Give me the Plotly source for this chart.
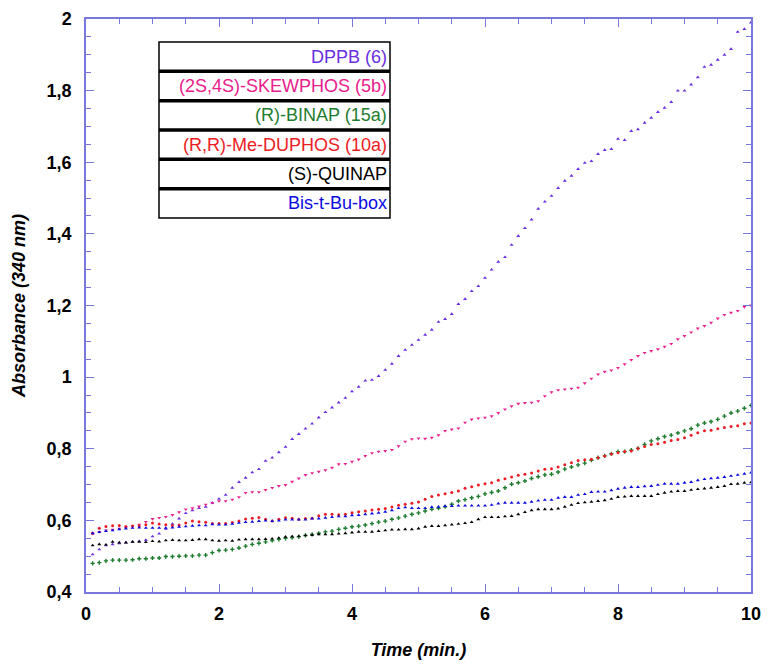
import plotly.graph_objects as go

# ---------------- data ----------------
time_min = [round(0.1 * i, 1) for i in range(1, 101)]

series_names = ["DPPB (6)", "(2S,4S)-SKEWPHOS (5b)", "(R)-BINAP (15a)",
                "(R,R)-Me-DUPHOS (10a)", "(S)-QUINAP", "Bis-t-Bu-box"]

x_tick_vals = [0, 2, 4, 6, 8, 10]
x_tick_text = ["0", "2", "4", "6", "8", "10"]
y_tick_vals = [0.4, 0.6, 0.8, 1.0, 1.2, 1.4, 1.6, 1.8, 2.0]
y_tick_text = ["0,4", "0,6", "0,8", "1", "1,2", "1,4", "1,6", "1,8", "2"]

dppb = [0.505, 0.519, 0.530, 0.533, 0.536, 0.538, 0.540, 0.542, 0.545, 0.555,
        0.563, 0.576, 0.590, 0.605, 0.620, 0.628, 0.634, 0.638, 0.649, 0.660,
        0.671, 0.691, 0.707, 0.719, 0.734, 0.743, 0.766, 0.775, 0.790, 0.805,
        0.827, 0.841, 0.856, 0.870, 0.887, 0.902, 0.915, 0.929, 0.942, 0.960,
        0.973, 0.990, 0.992, 1.003, 1.020, 1.037, 1.059, 1.076, 1.090, 1.104,
        1.118, 1.132, 1.154, 1.162, 1.176, 1.204, 1.218, 1.240, 1.254, 1.277,
        1.300, 1.322, 1.335, 1.369, 1.394, 1.416, 1.440, 1.470, 1.490, 1.506,
        1.528, 1.548, 1.562, 1.581, 1.598, 1.603, 1.623, 1.634, 1.637, 1.665,
        1.662, 1.687, 1.692, 1.710, 1.724, 1.740, 1.752, 1.768, 1.800, 1.800,
        1.817, 1.837, 1.866, 1.872, 1.886, 1.900, 1.916, 1.964, 1.972, 1.990]

skewphos = [0.563, 0.568, 0.572, 0.574, 0.577, 0.580, 0.584, 0.588, 0.596, 0.604,
            0.607, 0.610, 0.615, 0.623, 0.631, 0.634, 0.639, 0.644, 0.649, 0.654,
            0.654, 0.658, 0.665, 0.677, 0.679, 0.679, 0.685, 0.691, 0.696, 0.699,
            0.708, 0.717, 0.727, 0.732, 0.736, 0.740, 0.747, 0.757, 0.758, 0.764,
            0.770, 0.780, 0.788, 0.792, 0.794, 0.797, 0.807, 0.820, 0.827, 0.829,
            0.828, 0.831, 0.838, 0.850, 0.854, 0.857, 0.873, 0.882, 0.885, 0.887,
            0.891, 0.900, 0.910, 0.919, 0.926, 0.928, 0.929, 0.933, 0.947, 0.958,
            0.964, 0.966, 0.968, 0.971, 0.983, 0.996, 1.008, 1.015, 1.019, 1.026,
            1.036, 1.048, 1.059, 1.068, 1.073, 1.078, 1.085, 1.093, 1.106, 1.115,
            1.125, 1.136, 1.143, 1.152, 1.164, 1.174, 1.180, 1.185, 1.196, 1.200]

binap = [0.480, 0.482, 0.487, 0.489, 0.489, 0.489, 0.490, 0.493, 0.493, 0.495,
         0.495, 0.499, 0.499, 0.500, 0.501, 0.501, 0.503, 0.503, 0.510, 0.516,
         0.517, 0.519, 0.523, 0.528, 0.533, 0.536, 0.540, 0.544, 0.547, 0.550,
         0.552, 0.554, 0.558, 0.561, 0.564, 0.568, 0.570, 0.575, 0.578, 0.582,
         0.584, 0.587, 0.591, 0.595, 0.598, 0.603, 0.607, 0.612, 0.617, 0.621,
         0.626, 0.631, 0.634, 0.638, 0.645, 0.654, 0.658, 0.663, 0.667, 0.674,
         0.678, 0.682, 0.691, 0.701, 0.705, 0.710, 0.717, 0.722, 0.727, 0.729,
         0.735, 0.743, 0.749, 0.755, 0.760, 0.768, 0.775, 0.780, 0.786, 0.792,
         0.792, 0.796, 0.801, 0.812, 0.822, 0.828, 0.834, 0.838, 0.844, 0.850,
         0.856, 0.866, 0.872, 0.876, 0.882, 0.891, 0.900, 0.905, 0.913, 0.921]

duphos = [0.564, 0.578, 0.583, 0.585, 0.586, 0.583, 0.584, 0.584, 0.588, 0.593,
          0.590, 0.588, 0.586, 0.587, 0.593, 0.598, 0.596, 0.595, 0.591, 0.591,
          0.591, 0.594, 0.598, 0.604, 0.606, 0.608, 0.603, 0.598, 0.603, 0.607,
          0.606, 0.603, 0.605, 0.606, 0.613, 0.617, 0.617, 0.616, 0.617, 0.621,
          0.624, 0.626, 0.629, 0.631, 0.633, 0.637, 0.642, 0.645, 0.648, 0.651,
          0.659, 0.667, 0.671, 0.674, 0.678, 0.682, 0.690, 0.694, 0.699, 0.702,
          0.705, 0.712, 0.716, 0.721, 0.726, 0.729, 0.732, 0.738, 0.743, 0.744,
          0.749, 0.755, 0.761, 0.767, 0.769, 0.771, 0.775, 0.780, 0.785, 0.789,
          0.792, 0.794, 0.801, 0.806, 0.812, 0.814, 0.818, 0.823, 0.826, 0.831,
          0.838, 0.845, 0.850, 0.852, 0.856, 0.859, 0.862, 0.864, 0.870, 0.872]

quinap = [0.530, 0.533, 0.532, 0.540, 0.538, 0.538, 0.540, 0.540, 0.539, 0.542,
          0.541, 0.544, 0.545, 0.544, 0.544, 0.545, 0.547, 0.547, 0.544, 0.543,
          0.544, 0.543, 0.546, 0.547, 0.547, 0.547, 0.548, 0.549, 0.551, 0.554,
          0.555, 0.556, 0.558, 0.559, 0.561, 0.561, 0.561, 0.563, 0.564, 0.566,
          0.568, 0.568, 0.568, 0.570, 0.572, 0.574, 0.574, 0.575, 0.575, 0.577,
          0.582, 0.584, 0.584, 0.586, 0.588, 0.590, 0.592, 0.595, 0.603, 0.609,
          0.609, 0.609, 0.611, 0.612, 0.617, 0.623, 0.628, 0.631, 0.631, 0.631,
          0.633, 0.638, 0.643, 0.648, 0.650, 0.652, 0.654, 0.656, 0.660, 0.665,
          0.666, 0.668, 0.668, 0.668, 0.668, 0.673, 0.677, 0.680, 0.682, 0.682,
          0.685, 0.687, 0.689, 0.691, 0.693, 0.696, 0.701, 0.702, 0.705, 0.706]

box = [0.564, 0.567, 0.570, 0.572, 0.575, 0.577, 0.579, 0.580, 0.579, 0.579,
       0.579, 0.579, 0.580, 0.582, 0.583, 0.585, 0.586, 0.586, 0.589, 0.588,
       0.588, 0.590, 0.593, 0.595, 0.596, 0.598, 0.599, 0.598, 0.599, 0.602,
       0.602, 0.602, 0.602, 0.605, 0.605, 0.607, 0.609, 0.611, 0.611, 0.614,
       0.615, 0.617, 0.619, 0.621, 0.624, 0.628, 0.634, 0.636, 0.634, 0.634,
       0.634, 0.637, 0.638, 0.640, 0.640, 0.641, 0.641, 0.641, 0.641, 0.641,
       0.643, 0.647, 0.649, 0.649, 0.649, 0.649, 0.652, 0.655, 0.657, 0.657,
       0.663, 0.665, 0.665, 0.671, 0.673, 0.679, 0.680, 0.680, 0.684, 0.688,
       0.691, 0.693, 0.693, 0.695, 0.696, 0.699, 0.702, 0.702, 0.702, 0.705,
       0.707, 0.712, 0.715, 0.717, 0.719, 0.721, 0.724, 0.727, 0.730, 0.733]

series_values = [dppb, skewphos, binap, duphos, quinap, box]

# ---------------- style ----------------
colors = ["#6a2ee0", "#e8208c", "#1e7d2e", "#ec1c24", "#000000", "#0a0ae0"]
symbols = ["triangle-up", "triangle-down", "cross", "circle", "triangle-up", "triangle-up"]
sizes = [3.5, 3.5, 3.5, 3, 3.5, 3.5]
axis_col = "#7878dc"
FONT = "Arial, Liberation Sans, sans-serif"

# the page body adds an 8px offset; figure is sized/placed to compensate
OFF = 7
W, H = 771 - OFF - 1, 672 - OFF - 1
ML, MT = 85 - OFF, 18 - OFF
PW, PH = 665, 573
MR = W - ML - PW
MB = H - MT - PH


def px_x(x):
    return (x - OFF - ML) / PW


def px_y(y):
    return (MT + PH - (y - OFF)) / PH


fig = go.Figure()
for name, vals, c, s, sz in zip(series_names, series_values, colors, symbols, sizes):
    fig.add_trace(go.Scatter(
        x=time_min, y=vals, mode="markers", name=name,
        marker=dict(symbol=s, size=sz, color=c, line=dict(width=0)),
        showlegend=False))

axis_common = dict(
    showgrid=False, zeroline=False, showline=True, linecolor=axis_col, linewidth=1.5,
    mirror="ticks", ticks="inside", tickcolor=axis_col, tickwidth=1, ticklen=8,
    tickfont=dict(family=FONT, size=18, color="black"), automargin=False,
)

fig.update_xaxes(
    range=[0, 10], tickmode="array", tickvals=x_tick_vals,
    ticktext=["<b>%s</b>" % t for t in x_tick_text], **axis_common,
    minor=dict(dtick=0.5, tick0=0, ticks="inside", ticklen=5, tickcolor=axis_col, tickwidth=1),
    title=dict(text="<b><i>Time (min.)</i></b>", standoff=20,
               font=dict(family=FONT, size=18, color="black")),
    ticklabelstandoff=5,
)
fig.update_yaxes(
    range=[0.4, 2.0], tickmode="array", tickvals=y_tick_vals,
    ticktext=["<b>%s</b>" % t for t in y_tick_text], **axis_common,
    minor=dict(dtick=0.05, tick0=0.4, ticks="inside", ticklen=5, tickcolor=axis_col, tickwidth=1),
    title=dict(text="<b><i>Absorbance (340 nm)</i></b>", standoff=16,
               font=dict(family=FONT, size=18, color="black")),
    ticklabelstandoff=9,
)

# ---------------- legend box ----------------
box_left, box_right = 158, 389
box_top, box_bottom = 41, 217
row_h = (box_bottom - box_top) / len(series_names)
shapes = [dict(type="rect", xref="paper", yref="paper",
               x0=px_x(box_left), x1=px_x(box_right),
               y0=px_y(box_bottom), y1=px_y(box_top),
               line=dict(color="black", width=1.5), fillcolor="white", layer="below")]
annotations = []
for i, (name, c) in enumerate(zip(series_names, colors)):
    if i > 0:
        yy = box_top + i * row_h
        shapes.append(dict(type="line", xref="paper", yref="paper",
                           x0=px_x(box_left), x1=px_x(box_right),
                           y0=px_y(yy), y1=px_y(yy),
                           line=dict(color="black", width=3.5)))
    yc = box_top + (i + 0.5) * row_h
    annotations.append(dict(xref="paper", yref="paper", x=px_x(box_right - 1), y=px_y(yc),
                            text=name, showarrow=False, xanchor="right", yanchor="middle",
                            font=dict(family=FONT, size=18, color=c)))

fig.update_layout(
    width=W, height=H, margin=dict(l=ML, r=MR, t=MT, b=MB),
    plot_bgcolor="white", paper_bgcolor="white",
    shapes=shapes, annotations=annotations,
)

fig.write_html("out.html")
